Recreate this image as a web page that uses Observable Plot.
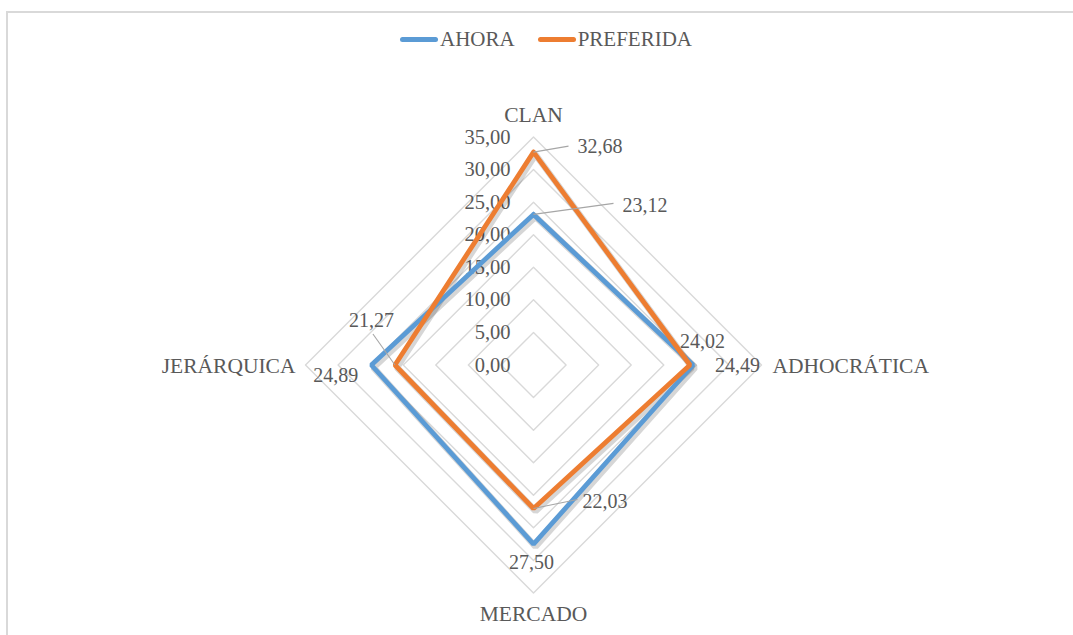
<!DOCTYPE html>
<html>
<head>
<meta charset="utf-8">
<script src="https://cdn.jsdelivr.net/npm/d3@7"></script>
<script src="https://cdn.jsdelivr.net/npm/@observablehq/plot@0.6"></script>
<style>
  html, body { margin: 0; padding: 0; background: #fff; }
  #page { position: relative; width: 1073px; height: 635px; overflow: hidden; background: #fff;
          font-family: "Liberation Serif", "Times New Roman", serif; color: #595959; }
  #frame { position: absolute; left: 6px; top: 11px; width: 1200px; height: 800px;
           border-top: 2px solid #d9d9d9; border-left: 2px solid #d9d9d9; }
  #legend { position: relative; height: 70px; display: flex; align-items: center; padding-left: 400px;
            font-size: 21px; box-sizing: border-box; padding-top: 8px; }
  .item { display: flex; align-items: center; margin-right: 23px; }
  .sw { width: 38px; height: 5px; min-height: 5px; border-radius: 3px; margin-right: 2px; flex: none; }
  #chart svg { display: block; overflow: visible; }
</style>
</head>
<body>
<div id="page">
  <div id="frame"></div>
  <div id="legend"></div>
  <div id="chart"></div>
</div>
<script>
// ---- data ----
const categories = ["CLAN", "ADHOCRÁTICA", "MERCADO", "JERÁRQUICA"];
const seriesNames = ["AHORA", "PREFERIDA"];
const ahora = [23.12, 24.49, 27.50, 24.89];
const preferida = [32.68, 24.02, 22.03, 21.27];
const tickValues = [0, 5, 10, 15, 20, 25, 30, 35];

// ---- layout / style (not data) ----
const colors = {AHORA: "#5b9bd5", PREFERIDA: "#ed7d31"};
const R = 228, MAXV = 35, k = R / MAXV;          // px per unit
const cx = 533, cy = 294.5;                       // centre in svg px
const textColor = "#595959";
const FONT = '"Liberation Serif", "Times New Roman", serif';
const fsTick = 20.5, fsLabel = 20, fsCat = 21.5;
// label offsets (px): dx, dy, anchor, optional leader end (lx, ly)
const labelLayout = {
  AHORA: [
    {dx: 89, dy: -9, anchor: "start", lx: 80, ly: -11},
    {dx: 22, dy: 1, anchor: "start"},
    {dx: -2, dy: 18, anchor: "middle"},
    {dx: -13, dy: 11, anchor: "end"}
  ],
  PREFERIDA: [
    {dx: 44, dy: -6, anchor: "start", lx: 35, ly: -6},
    {dx: -10, dy: -23, anchor: "start"},
    {dx: 49, dy: -7, anchor: "start", lx: 44, ly: -9},
    {dx: -1, dy: -44, anchor: "end", lx: -22, ly: -31}
  ]
};
const catLayout = [
  {dx: 0, dy: -22, anchor: "middle"},
  {dx: 11, dy: 1, anchor: "start"},
  {dx: 0, dy: 21, anchor: "middle"},
  {dx: -10, dy: 1, anchor: "end"}
];

const fmt = v => d3.format(".2f")(v).replace(".", ",");
const ang = i => i * Math.PI / 2;
const px = (i, v) => v * Math.sin(ang(i));
const py = (i, v) => v * Math.cos(ang(i));

// ---- legend ----
const legend = document.getElementById("legend");
seriesNames.forEach(s => {
  const it = document.createElement("div"); it.className = "item";
  const sw = document.createElement("div"); sw.className = "sw"; sw.style.background = colors[s];
  const t = document.createElement("span"); t.textContent = s;
  it.appendChild(sw); it.appendChild(t); legend.appendChild(it);
});

// ---- derived tables ----
const rings = tickValues.filter(v => v > 0).flatMap(v =>
  [0, 1, 2, 3, 0].map(i => ({ring: v, x: px(i, v), y: py(i, v)})));

const seriesData = {AHORA: ahora, PREFERIDA: preferida};
const polyRows = seriesNames.flatMap(s =>
  [0, 1, 2, 3, 0].map(i => ({series: s, x: px(i, seriesData[s][i]), y: py(i, seriesData[s][i])})));

const labels = seriesNames.flatMap(s => seriesData[s].map((v, i) => {
  const L = labelLayout[s][i];
  const x0 = px(i, v), y0 = py(i, v);
  return {
    text: fmt(v), anchor: L.anchor,
    x: x0 + L.dx / k, y: y0 - L.dy / k,
    x1: x0, y1: y0,
    leader: L.lx !== undefined,
    x2: L.lx !== undefined ? x0 + L.lx / k : x0,
    y2: L.ly !== undefined ? y0 - L.ly / k : y0
  };
}));

const cats = categories.map((c, i) => ({
  text: c, anchor: catLayout[i].anchor,
  x: px(i, MAXV) + catLayout[i].dx / k,
  y: py(i, MAXV) - catLayout[i].dy / k
}));

const textMarks = (rows, size) => ["start", "middle", "end"].map(a =>
  Plot.text(rows.filter(d => d.anchor === a), {
    x: "x", y: "y", text: "text", textAnchor: a,
    fill: textColor, fontSize: size, fontFamily: FONT
  }));

const chart = Plot.plot({
  width: 1073, height: 565,
  marginTop: 0, marginBottom: 0, marginLeft: 0, marginRight: 0,
  x: {domain: [-MAXV, MAXV], range: [cx - R, cx + R], axis: null},
  y: {domain: [-MAXV, MAXV], range: [cy + R, cy - R], axis: null},
  color: {domain: seriesNames, range: seriesNames.map(s => colors[s])},
  style: {fontFamily: FONT, fontSize: "20px", background: "transparent", overflow: "visible"},
  marks: [
    Plot.line(rings, {x: "x", y: "y", z: "ring", stroke: "#d9d9d9", strokeWidth: 1.4}),
    Plot.text(tickValues, {x: 0, y: d => d, text: d => fmt(d), textAnchor: "end", dx: -23,
      fill: textColor, fontSize: fsTick, fontFamily: FONT}),
    // soft shadow under the series lines
    Plot.line(polyRows, {x: "x", y: "y", z: "series", stroke: "#000", strokeOpacity: 0.16,
      strokeWidth: 6.5, dx: 2, dy: 2.5, strokeLinejoin: "miter"}),
    Plot.line(polyRows, {x: "x", y: "y", z: "series", stroke: "series", strokeWidth: 4.8,
      strokeLinejoin: "miter"}),
    Plot.link(labels.filter(d => d.leader), {x1: "x1", y1: "y1", x2: "x2", y2: "y2",
      stroke: "#a6a6a6", strokeWidth: 1.1}),
    ...textMarks(labels, fsLabel),
    ...textMarks(cats, fsCat)
  ]
});
document.getElementById("chart").appendChild(chart);
</script>
</body>
</html>
